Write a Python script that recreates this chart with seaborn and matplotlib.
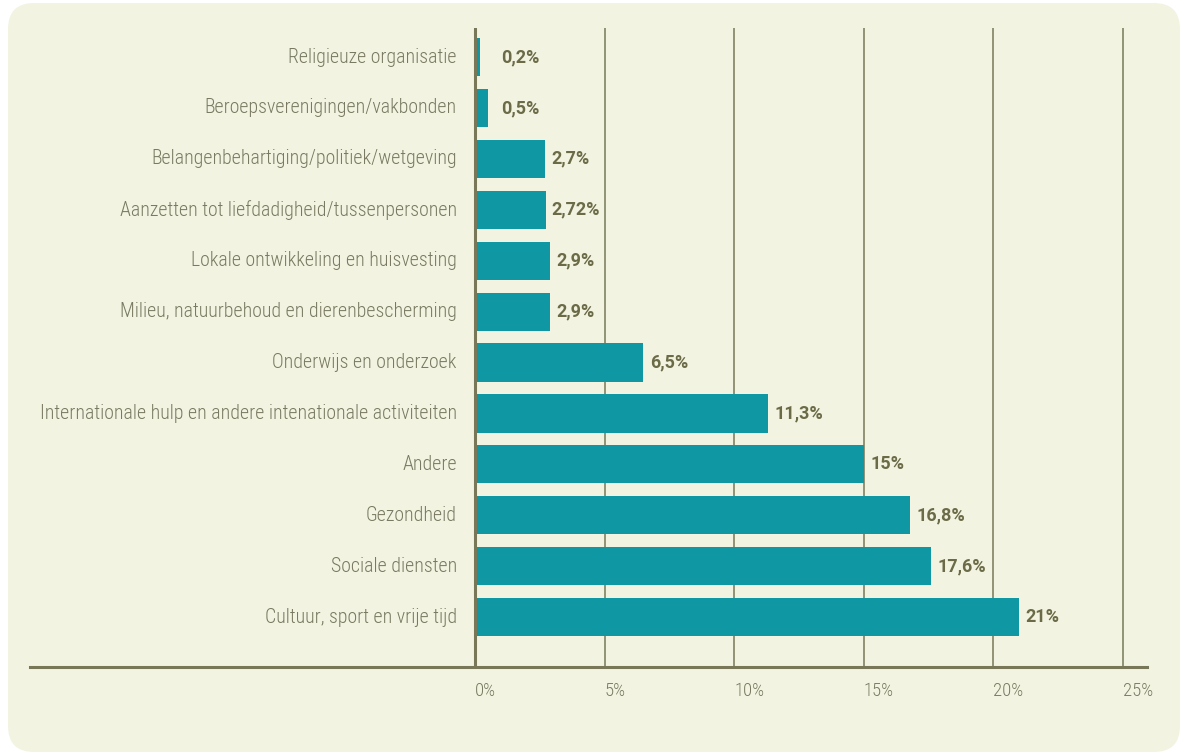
import matplotlib
matplotlib.use("Agg")
import matplotlib.pyplot as plt
from matplotlib import font_manager
from matplotlib.patches import FancyBboxPatch
import seaborn as sns
import pandas as pd

# Sectors, listed top to bottom
categories = [
    "Religieuze organisatie",
    "Beroepsverenigingen/vakbonden",
    "Belangenbehartiging/politiek/wetgeving",
    "Aanzetten tot liefdadigheid/tussenpersonen",
    "Lokale ontwikkeling en huisvesting",
    "Milieu, natuurbehoud en dierenbescherming",
    "Onderwijs en onderzoek",
    "Internationale hulp en andere intenationale activiteiten",
    "Andere",
    "Gezondheid",
    "Sociale diensten",
    "Cultuur, sport en vrije tijd",
]
values = [0.2, 0.5, 2.7, 2.72, 2.9, 2.9, 6.5, 11.3, 15, 16.8, 17.6, 21]
value_labels = ["0,2%", "0,5%", "2,7%", "2,72%", "2,9%", "2,9%", "6,5%",
                "11,3%", "15%", "16,8%", "17,6%", "21%"]
xticks = [0, 5, 10, 15, 20, 25]
xtick_labels = ["0%", "5%", "10%", "15%", "20%", "25%"]

BAR = "#0f97a3"
OLIVE = "#787858"
LABEL = "#7a7a62"
VALUE = "#6b6b48"
CARD = "#f2f4e1"

sns.set_theme(style="white")
installed = {f.name for f in font_manager.fontManager.ttflist}
narrow = next(f for f in ["Roboto Condensed", "Liberation Sans Narrow", "Lato", "Roboto", "DejaVu Sans"]
              if f in installed)
wide = next(f for f in ["Roboto", "Lato", "DejaVu Sans"] if f in installed)
plt.rcParams["font.family"] = [narrow, "DejaVu Sans"]

W, H = 1188, 755
fig = plt.figure(figsize=(W / 100, H / 100), dpi=100)
fig.patch.set_facecolor("white")

# rounded card behind the chart (display pixels)
card = FancyBboxPatch((8, 3), 1172, 749, boxstyle="round,pad=0,rounding_size=26",
                      transform=None, facecolor=CARD, edgecolor="none", zorder=0)
fig.add_artist(card)

ax = fig.add_axes([30 / W, (H - 667) / H, (1147 - 30) / W, (667 - 28) / H])
ax.set_facecolor("none")

df = pd.DataFrame({"sector": categories, "share": values})
sns.barplot(data=df, x="share", y="sector", orient="h", color=BAR, saturation=1,
            width=0.75, linewidth=0, ax=ax, zorder=3)

xmin = -(475 - 30) / ((1123 - 475) / 25)
xmax = (1147 - 475) / ((1123 - 475) / 25)
ax.set_xlim(xmin, xmax)
ax.set_ylim(len(categories) - 1 + 0.98, -0.57)

ax.set_xticks(xticks, xtick_labels)
for t in ax.get_xticklabels():
    t.set_ha("left")
    t.set_fontweight("light")
ax.tick_params(axis="x", length=0, pad=11, labelsize=13.5, labelcolor=LABEL)
ax.tick_params(axis="y", left=False, labelleft=False)
ax.set_xlabel("")
ax.set_ylabel("")

ax.grid(axis="x", color=OLIVE, linewidth=1.1, zorder=1)
ax.grid(axis="y", visible=False)
ax.axvline(0, color=OLIVE, linewidth=2.2, zorder=4)
for side in ["top", "right", "left"]:
    ax.spines[side].set_visible(False)
ax.spines["bottom"].set_color(OLIVE)
ax.spines["bottom"].set_linewidth(2.2)

for i, (cat, v, lab) in enumerate(zip(categories, values, value_labels)):
    ax.text(-0.7, i, cat, ha="right", va="center", fontsize=14.3, color=LABEL,
            fontweight="light")
    ax.annotate(lab, (max(v, 0.75), i), xytext=(4.5, 0), textcoords="offset points",
                ha="left", va="center", fontsize=13, fontweight="bold", color=VALUE,
                family=[wide, "DejaVu Sans"])

fig.savefig("out.png", dpi=100, facecolor="white")
